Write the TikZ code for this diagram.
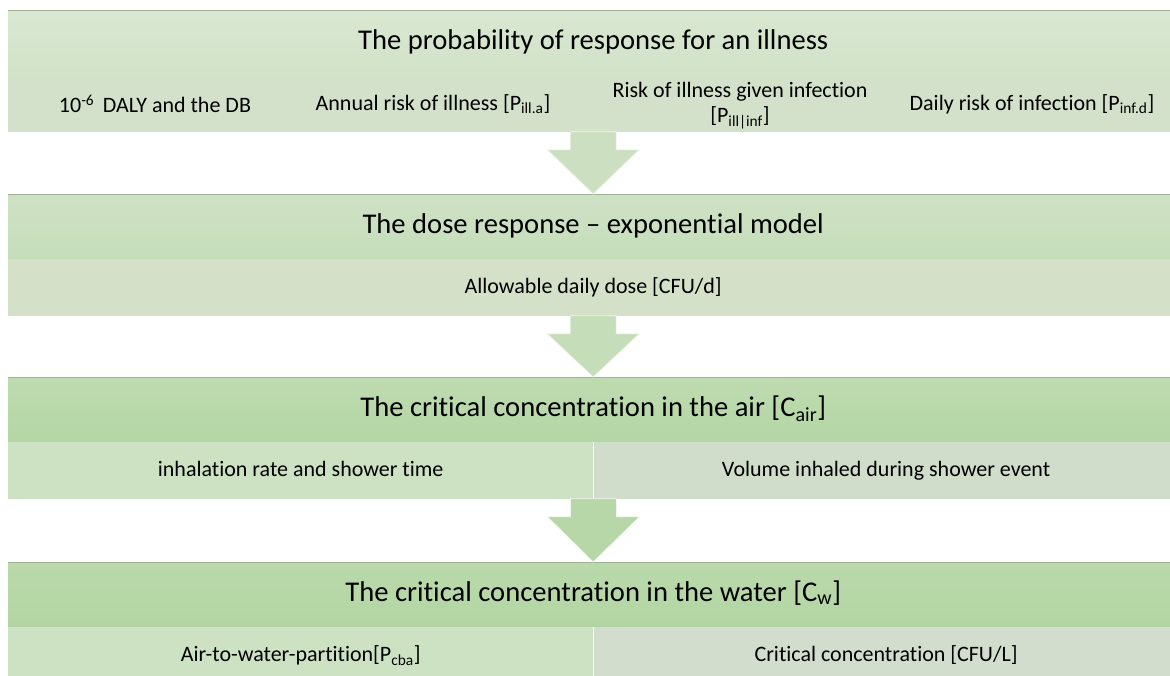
\documentclass[tikz,border=0pt]{standalone}
\usepackage{fontspec}
\setmainfont{Carlito}[Ligatures = NoCommon]
\usetikzlibrary{positioning, calc}
\definecolor{headAtop}{HTML}{D9E7D1}
\definecolor{headAbot}{HTML}{D2E3C9}
\definecolor{rowA}{HTML}{D4E1CA}
\definecolor{headBtop}{HTML}{CFE1C5}
\definecolor{headBbot}{HTML}{C5DEBA}
\definecolor{rowB}{HTML}{D4E0C8}
\definecolor{headCtop}{HTML}{BEDBB0}
\definecolor{headCbot}{HTML}{B4D6A5}
\definecolor{rowCleft}{HTML}{CDE2C2}
\definecolor{rowCright}{HTML}{D1DDCB}
\definecolor{headDtop}{HTML}{BAD9AB}
\definecolor{headDbot}{HTML}{B3D5A3}
\definecolor{rowDleft}{HTML}{CDE2C3}
\definecolor{rowDright}{HTML}{D3DDCD}
\definecolor{arrowA}{HTML}{CCE0C1}
\definecolor{arrowB}{HTML}{C5DDB9}
\definecolor{arrowC}{HTML}{B8D7A9}
\definecolor{rimline}{HTML}{9DB394}
\tikzset{
	flow chart/.is family,
	flow chart/.cd,
	header/.style = {
		anchor = north west,
		minimum width = 1170pt,
		minimum height = 64pt,
		inner sep = 0pt,
		text height = 20pt,
		text depth = 6pt,
		font = \fontsize{28.6}{34}\selectfont,
	},
	row/.style = {
		minimum width = 1170pt,
		minimum height = 57pt,
		inner sep = 0pt,
		text height = 17pt,
		text depth = 4pt,
		font = \fontsize{22}{26}\selectfont,
	},
	cell/.style = {
		flow chart/row,
		minimum width = 585pt,
	},
	label/.style = {
		inner sep = 0pt,
		align = center,
		font = \fontsize{22}{25}\selectfont,
	},
	rim/.style = {
		draw = rimline,
		line width = 0.8pt,
	},
	arrow/.style = {
		draw = white!70!arrowA,
		line width = 0.8pt,
		line join = miter,
	},
}

\begin{document}
\begin{tikzpicture}[x = 1pt, y = -1pt]
	\useasboundingbox[fill = white] (0, 0) rectangle (1170, 675);
	% first block
	\node[flow chart/header, top color = headAtop, bottom color = headAbot] (probhead) at (8, 10) {The probability of response for an illness};
	\node[flow chart/row, fill = rowA, below = 0pt of probhead] (probrow) {};
	\node[flow chart/label] (dalytext) at ($(probrow.west) + (147, 1)$) {10\textsuperscript{-6}\, DALY and the DB};
	\node[flow chart/label] (annualtext) at ($(probrow.west) + (425, 1)$) {Annual risk of illness [P\textsubscript{ill.a}]};
	\node[flow chart/label] (giventext) at ($(probrow.west) + (732, 3)$) {Risk of illness given infection\\{[}P\textsubscript{ill|inf}{]}};
	\node[flow chart/label] (dailytext) at ($(probrow.west) + (1024, 1)$) {Daily risk of infection [P\textsubscript{inf.d}]};
	% second block
	\node[flow chart/header, top color = headBtop, bottom color = headBbot] (dosehead) at (8, 194) {The dose response – exponential model};
	\node[flow chart/row, fill = rowB, below = 0pt of dosehead] (doserow) {Allowable daily dose [CFU/d]};
	% third block
	\node[flow chart/header, top color = headCtop, bottom color = headCbot] (airhead) at (8, 377) {The critical concentration in the air [C\textsubscript{air}]};
	\node[flow chart/cell, fill = rowCleft, anchor = north west] (airleft) at (airhead.south west) {inhalation rate and shower time};
	\node[flow chart/cell, fill = rowCright, right = 0pt of airleft] (airright) {Volume inhaled during shower event};
	% fourth block
	\node[flow chart/header, top color = headDtop, bottom color = headDbot] (waterhead) at (8, 562) {The critical concentration in the water [C\textsubscript{w}]};
	\node[flow chart/cell, fill = rowDleft, anchor = north west] (waterleft) at (waterhead.south west) {Air-to-water-partition[P\textsubscript{cba}]};
	\node[flow chart/cell, fill = rowDright, right = 0pt of waterleft] (waterright) {Critical concentration [CFU/L]};
	\foreach \blk in {probhead, dosehead, airhead, waterhead}{
		\draw[flow chart/rim] (\blk.north west) -- (\blk.north east);
	}
	% block arrows
	\foreach \src/\dst/\tone in {probrow.south/dosehead/arrowA, doserow.south/airhead/arrowB, airleft.south east/waterhead/arrowC}{
		\coordinate (tail) at (\src);
		\coordinate (tip) at (\dst.north);
		\filldraw[flow chart/arrow, fill = \tone] ($(tail) + (-23, 0)$) -- ($(tail) + (-23, 18)$) -- ($(tail) + (-46, 18)$) -- (tip) -- ($(tail) + (46, 18)$) -- ($(tail) + (23, 18)$) -- ($(tail) + (23, 0)$) -- cycle;
	}
\end{tikzpicture}
\end{document}
